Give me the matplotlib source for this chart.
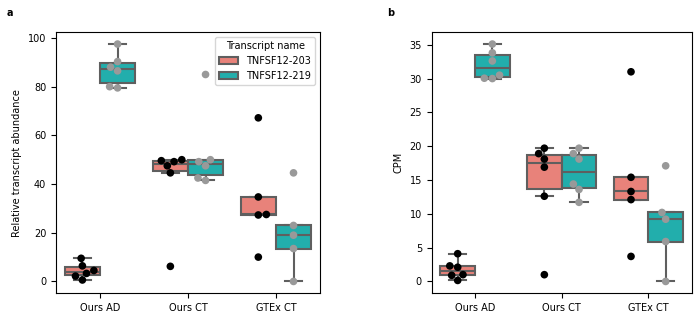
import numpy as np
import pandas as pd
import seaborn as sns
import matplotlib
matplotlib.use('Agg')
import matplotlib.pyplot as plt

#%% values

groups = ['Ours AD', 'Ours CT', 'GTEx CT']
transcripts = ['TNFSF12-203', 'TNFSF12-219']

# relative transcript abundance (panel a)
rel_203 = {'Ours AD': [0.6, 2.2, 3.3, 4.5, 6.4, 9.5],
           'Ours CT': [6.2, 44.6, 47.5, 49.2, 49.6, 50.0],
           'GTEx CT': [10.0, 27.3, 27.5, 34.7, 67.2]}
rel_219 = {'Ours AD': [79.5, 80.0, 86.5, 88.0, 90.3, 97.5],
           'Ours CT': [41.5, 42.5, 47.5, 49.2, 50.0, 85.0],
           'GTEx CT': [0.0, 13.5, 19.0, 23.0, 44.6]}

# CPM (panel b)
cpm_203 = {'Ours AD': [0.15, 0.9, 1.0, 2.1, 2.3, 4.1],
           'Ours CT': [1.0, 12.6, 16.9, 18.1, 18.9, 19.7],
           'GTEx CT': [3.7, 12.1, 13.3, 15.4, 31.0]}
cpm_219 = {'Ours AD': [30.0, 30.05, 30.5, 32.6, 33.8, 35.1],
           'Ours CT': [11.7, 13.6, 14.4, 18.1, 18.9, 19.7],
           'GTEx CT': [0.0, 5.9, 9.2, 10.2, 17.1]}


def to_long(d203, d219, col):
    rows = []
    for name, d in zip(transcripts, [d203, d219]):
        for g in groups:
            for v in d[g]:
                rows.append({'group': g, 'Transcript name': name, col: v})
    return pd.DataFrame(rows)


rel_df = to_long(rel_203, rel_219, 'Relative transcript abundance')
cpm_df = to_long(cpm_203, cpm_219, 'CPM')

box_colors = ['#E8827A', '#22AEAC']
point_colors = ['black', '#999999']

plt.rcParams['font.family'] = ['DejaVu Sans']
plt.rcParams['font.size'] = 7

fig = plt.figure(figsize=(7, 3.2), dpi=100)
ax_a = fig.add_axes([0.080, 0.0834, 0.377, 0.816])
ax_b = fig.add_axes([0.6167, 0.0834, 0.3714, 0.816])

for ax, df, col, show_leg in [(ax_a, rel_df, 'Relative transcript abundance', True),
                              (ax_b, cpm_df, 'CPM', False)]:
    sns.boxplot(data=df, x='group', y=col, hue='Transcript name',
                order=groups, hue_order=transcripts,
                palette=box_colors, saturation=1, showfliers=False,
                linecolor='#5f5f5f', linewidth=1.5, ax=ax, legend=show_leg)
    sns.swarmplot(data=df, x='group', y=col, hue='Transcript name',
                  order=groups, hue_order=transcripts,
                  palette=point_colors, dodge=True, size=5.5,
                  ax=ax, legend=False)
    ax.set_xlabel('')
    ax.set_ylabel(col, fontsize=7)
    ax.tick_params(labelsize=7)

leg = ax_a.legend(loc='upper right', title='Transcript name', fontsize=7,
                  title_fontsize=7)

fig.text(0.010, 0.975, 'a', fontsize=7, fontweight='bold', va='top')
fig.text(0.553, 0.975, 'b', fontsize=7, fontweight='bold', va='top')

plt.savefig('out.png', dpi=100)
